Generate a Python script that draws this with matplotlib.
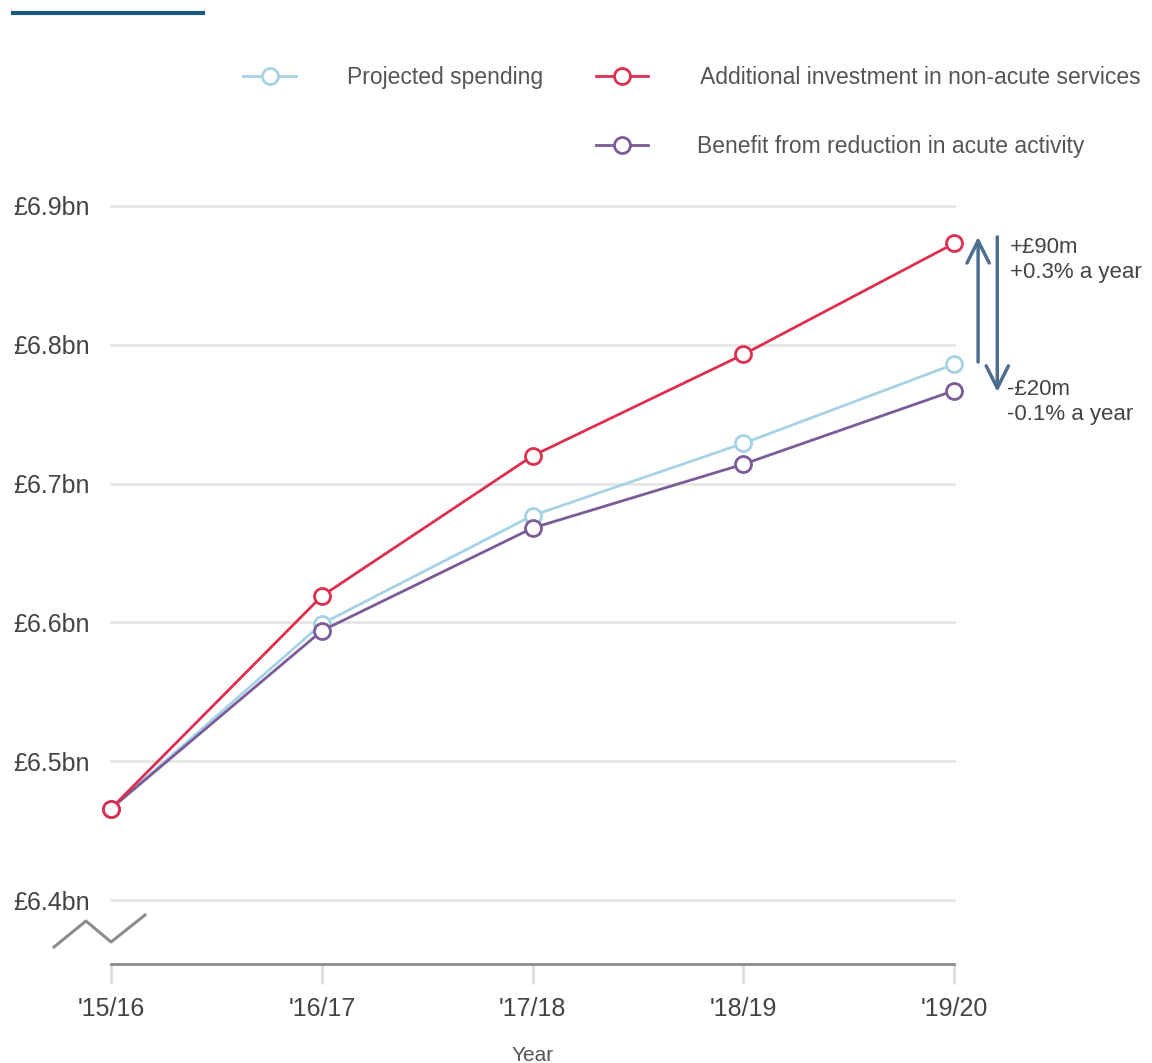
import matplotlib.pyplot as plt
from matplotlib.lines import Line2D

plt.rcParams['font.family'] = ['Liberation Sans', 'DejaVu Sans']

years = ["'15/16", "'16/17", "'17/18", "'18/19", "'19/20"]
projected = [6.466, 6.599, 6.677, 6.729, 6.786]
additional = [6.466, 6.619, 6.720, 6.793, 6.873]
benefit = [6.466, 6.594, 6.668, 6.714, 6.767]
yticks = [6.4, 6.5, 6.6, 6.7, 6.8, 6.9]
ylabels = ["£6.4bn", "£6.5bn", "£6.6bn", "£6.7bn", "£6.8bn", "£6.9bn"]

c_proj = "#a5d2e5"
c_add = "#dc3050"
c_ben = "#7b5b98"
c_arrow = "#4d6e8f"
c_text = "#555555"

fig = plt.figure(figsize=(11.52, 10.63), dpi=100)
ax = fig.add_axes([0.0964, 0.0931, 0.7318, 0.7393])
x = list(range(len(years)))

for v in yticks:
    ax.axhline(v, color="#e6e6e6", lw=2, zorder=0, clip_on=False)

style = dict(lw=2, marker="o", ms=11.5, mfc="white", mew=2, clip_on=False)
ax.plot(x, projected, color=c_proj, zorder=3, **style)
ax.plot(x, benefit, color=c_ben, zorder=4, **style)
ax.plot(x, additional, color=c_add, zorder=5, **style)

ax.set_xlim(0, 4)
ax.set_ylim(6.354, 6.92)
ax.set_yticks(yticks)
ax.set_yticklabels(ylabels)
ax.set_xticks(x)
ax.set_xticklabels(years)
ax.tick_params(axis="y", length=0, pad=15, labelsize=18, labelcolor="#444444")
ax.tick_params(axis="x", length=14.5, width=2, color="#deded8", pad=9,
               labelsize=18, labelcolor="#444444")
for s in ["top", "right", "left"]:
    ax.spines[s].set_visible(False)
ax.spines["bottom"].set_color("#8c8c8c")
ax.spines["bottom"].set_linewidth(2)
ax.set_xlabel("Year", fontsize=15, color=c_text, labelpad=18)

# difference arrows at '19/20
arrow = dict(arrowstyle="->", color=c_arrow, lw=2.5, mutation_scale=40,
             shrinkA=0, shrinkB=0)
ax.annotate("", xy=(4.114, 6.8777), xytext=(4.114, 6.7876),
            arrowprops=arrow, annotation_clip=False)
ax.annotate("", xy=(4.205, 6.766), xytext=(4.205, 6.8777),
            arrowprops=arrow, annotation_clip=False)
ax.text(4.265, 6.861, "+£90m\n+0.3% a year", fontsize=16, color="#444444",
        va="center", ha="left", linespacing=1.25)
ax.text(4.25, 6.759, "-£20m\n-0.1% a year", fontsize=16, color="#444444",
        va="center", ha="left", linespacing=1.25)

# axis break zigzag
W, H = 1152, 1063
zx = [54, 86, 111, 145]
zy = [947, 921, 942, 915]
fig.add_artist(Line2D([p / W for p in zx], [1 - p / H for p in zy],
                      color="#8c8c8c", lw=2.2))

# top rule
fig.add_artist(Line2D([13 / W, 203 / W], [1 - 13 / H, 1 - 13 / H],
                      color="#1b587e", lw=3))

# legend
legend_items = [
    (243, 296, 76, c_proj, 347, "Projected spending"),
    (596, 648, 76, c_add, 700, "Additional investment in non-acute services"),
    (596, 648, 145, c_ben, 697, "Benefit from reduction in acute activity"),
]
for x0, x1, yy, col, tx, label in legend_items:
    fig.add_artist(Line2D([x0 / W, x1 / W], [1 - yy / H, 1 - yy / H],
                          color=col, lw=2))
    fig.add_artist(Line2D([(x0 + x1) / 2 / W], [1 - yy / H], marker="o", ms=11.5,
                          mfc="white", mec=col, mew=2, lw=0))
    fig.text(tx / W, 1 - (yy + 2) / H, label, fontsize=16.5, color=c_text,
             va="center", ha="left")

fig.savefig("out.png", dpi=100)
